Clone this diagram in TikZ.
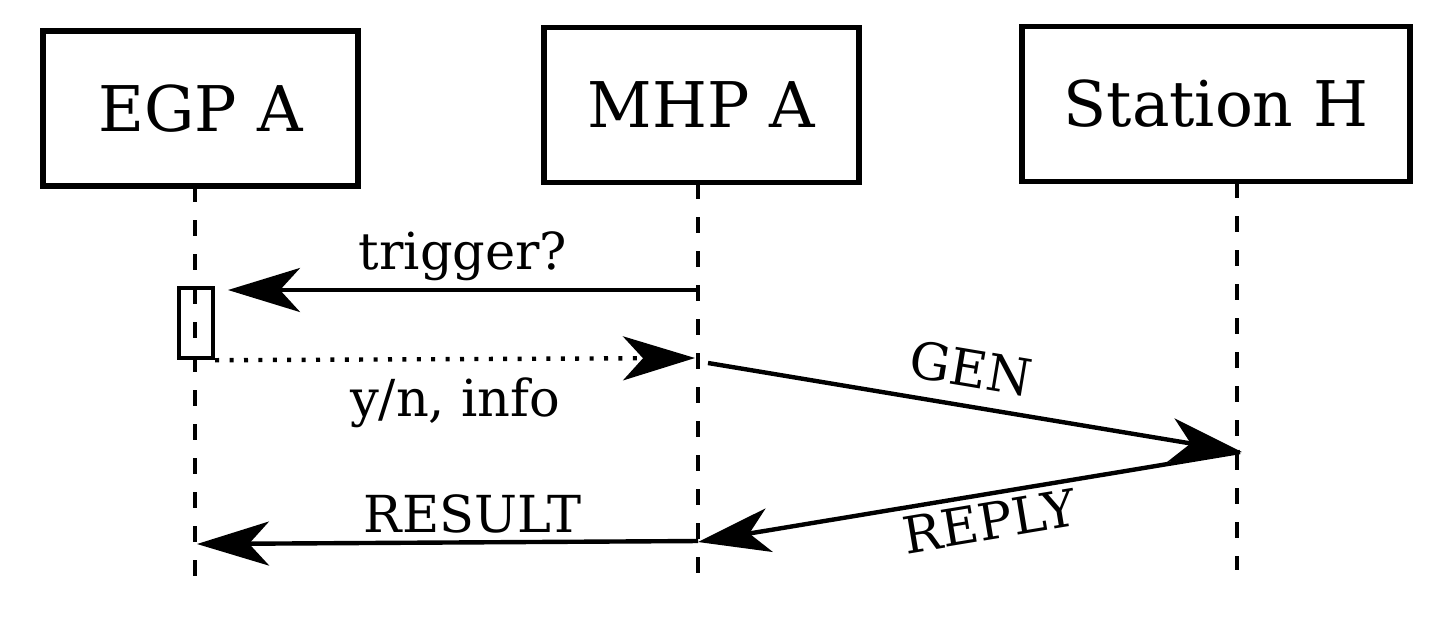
\documentclass[tikz,border=0pt]{standalone}
\usepackage{fontspec}
\setmainfont{DejaVu Serif}
\usetikzlibrary{arrows.meta, positioning}

\begin{document}
\begin{tikzpicture}[x=0.5pt,y=-0.5pt,>={Stealth[length=36pt,width=22pt,inset=10pt]},
      every node/.style={font=\fontsize{25.5}{30}\selectfont},
      actor/.style={draw,line width=2.6pt,minimum height=77.5pt,font=\fontsize{31.5}{36}\selectfont},
      lifeline/.style={line width=2.3pt,dash pattern=on 8pt off 9pt},
      msg/.style={->,line width=2.2pt},
      answer/.style={->,line width=2.2pt,dash pattern=on 2pt off 5.2pt}]
      \useasboundingbox (0,0) rectangle (1443,634);
      \node[actor,minimum width=157.5pt] (egp) at (200.5,108.5) {EGP A};
      \node[actor,minimum width=157.5pt] (mhp) at (701.5,105) {MHP A};
      \node[actor,minimum width=194pt]   (sth) at (1216,104) {Station H};
      % lifelines
      \coordinate (egp_top) at (195,186);  \coordinate (egp_bot) at (195,576);
      \coordinate (mhp_top) at (698,183);  \coordinate (mhp_bot) at (698,575);
      \coordinate (sth_top) at (1237,182); \coordinate (sth_bot) at (1237,570);
      \draw[lifeline] (egp_top) -- (egp_bot);
      \draw[lifeline] (mhp_top) -- (mhp_bot);
      \draw[lifeline] (sth_top) -- (sth_bot);
      \node[draw,line width=2.2pt,minimum width=17pt,minimum height=35pt,inner sep=0pt] (act) at (196,323) {};
      % message ends
      \coordinate (trig_s) at (698,290);  \coordinate (trig_e) at (228,290);
      \coordinate (info_e) at (695,358);
      \coordinate (gen_s) at (708,363);   \coordinate (gen_e) at (1242,452);
      \coordinate (rep_s) at (1240,452);  \coordinate (rep_e) at (698,542);
      \coordinate (res_s) at (698,541);   \coordinate (res_e) at (197,544);
      \draw[msg] (trig_s) -- node[above] {trigger?} (trig_e);
      \draw[answer] (act.south east) -- node[below=5pt] {y/n, info} (info_e);
      \draw[msg] (gen_s) -- node[above=5pt,sloped,pos=0.48] {GEN} (gen_e);
      \draw[msg] (rep_s) -- node[below,sloped,pos=0.47] {REPLY} (rep_e);
      \draw[msg] (res_s) -- node[above,pos=0.45] {RESULT} (res_e);
    \end{tikzpicture}
\end{document}
